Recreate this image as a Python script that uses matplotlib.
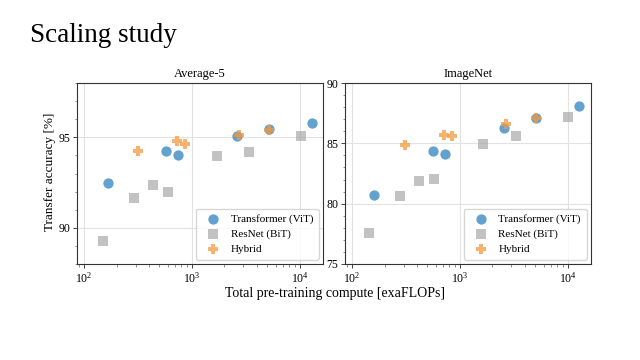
import matplotlib.pyplot as plt
from matplotlib.ticker import MultipleLocator

plt.rcParams['font.family'] = ['Liberation Serif', 'DejaVu Serif']

# Average-5
avg_vit_x = [166, 578, 741, 2612, 5200, 12900]
avg_vit_y = [92.46, 94.23, 94.03, 95.07, 95.44, 95.80]
avg_bit_x = [151, 288, 432, 596, 1690, 3400, 10200]
avg_bit_y = [89.29, 91.63, 92.36, 91.98, 93.97, 94.21, 95.07]
avg_hyb_x = [316, 727, 861, 2720, 5200]
avg_hyb_y = [94.23, 94.82, 94.65, 95.15, 95.38]

# ImageNet
in_vit_x = [159, 558, 722, 2540, 5120, 12700]
in_vit_y = [80.72, 84.33, 84.14, 86.31, 87.11, 88.11]
in_bit_x = [145, 276, 414, 575, 1640, 3300, 10000]
in_bit_y = [77.53, 80.67, 81.86, 82.08, 84.97, 85.58, 87.22]
in_hyb_x = [307, 707, 840, 2650, 5120]
in_hyb_y = [84.89, 85.72, 85.61, 86.64, 87.11]

panels = [
    ('Average-5', avg_vit_x, avg_vit_y, avg_bit_x, avg_bit_y, avg_hyb_x, avg_hyb_y, (88, 98), 5),
    ('ImageNet', in_vit_x, in_vit_y, in_bit_x, in_bit_y, in_hyb_x, in_hyb_y, (75, 90), 5),
]

fig = plt.figure(figsize=(6.4, 3.6), dpi=100)
fig.text(30 / 640, 1 - 35 / 360, 'Scaling study', fontsize=19.5, va='center', ha='left')

boxes = [[77 / 640, 1 - 264 / 360, 246 / 640, 181 / 360],
         [345 / 640, 1 - 264 / 360, 246 / 640, 181 / 360]]

for box, (title, vx, vy, bx, by, hx, hy, ylim, step) in zip(boxes, panels):
    ax = fig.add_axes(box)
    ax.set_xscale('log')
    ax.grid(True, which='major', color='#e2e2e2', lw=0.8)
    ax.set_axisbelow(True)
    ax.scatter(vx, vy, s=55, marker='o', color='#2f82c0', alpha=0.75, lw=0, label='Transformer (ViT)', zorder=3)
    ax.scatter(bx, by, s=55, marker='s', color='#a8a8a8', alpha=0.7, lw=0, label='ResNet (BiT)', zorder=3)
    ax.scatter(hx, hy, s=60, marker='P', color='#f59a3c', alpha=0.75, lw=0, label='Hybrid', zorder=4)
    ax.set_xlim(86, 16400)
    ax.set_ylim(*ylim)
    ax.yaxis.set_major_locator(MultipleLocator(step))
    ax.yaxis.set_minor_locator(MultipleLocator(1))
    ax.set_title(title, fontsize=9, pad=4)
    ax.tick_params(labelsize=8.5, length=3, width=0.7, pad=2, color='#444444')
    ax.tick_params(which='minor', length=1.8, width=0.5, color='#666666')
    for sp in ax.spines.values():
        sp.set_color('#333333')
        sp.set_linewidth(0.8)
    leg = ax.legend(loc='lower right', fontsize=8, frameon=True, handletextpad=0.6,
                    borderpad=0.5, labelspacing=0.45, borderaxespad=0.4)
    leg.get_frame().set_edgecolor('#cccccc')

fig.text(335 / 640, 1 - 293 / 360, 'Total pre-training compute [exaFLOPs]', fontsize=10, ha='center', va='center')
fig.text(50 / 640, 1 - 172 / 360, 'Transfer accuracy [%]', fontsize=9.5, rotation=90, ha='center', va='center')

fig.savefig('out.png', dpi=100)
